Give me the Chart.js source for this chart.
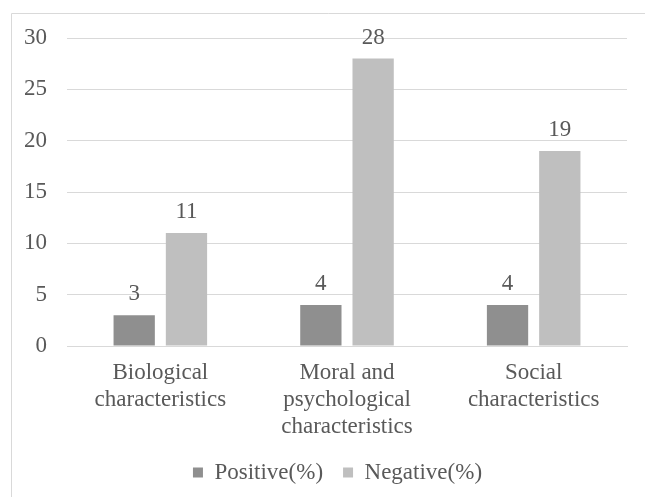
<!DOCTYPE html>
<html>
<head>
<meta charset="utf-8">
<script src="https://cdn.jsdelivr.net/npm/chart.js@4"></script>
<style>
  html, body { margin: 0; padding: 0; background: #fff; }
  #wrap { width: 645px; height: 497px; }
</style>
</head>
<body>
<div id="wrap"><canvas id="chart" width="645" height="497"></canvas></div>
<script>
const categories = [
  ["Biological", "characteristics"],
  ["Moral and", "psychological", "characteristics"],
  ["Social", "characteristics"]
];
const positiveValues = [3, 4, 4];
const negativeValues = [11, 28, 19];
const seriesNames = ["Positive(%)", "Negative(%)"];
const yTicks = [0, 5, 10, 15, 20, 25, 30];

const textColor = "#595959";
const fontFamily = "'Liberation Serif', 'Times New Roman', serif";

// frame of the chart box (only left and top edges are visible in the picture)
const framePlugin = {
  id: "frame",
  afterLayout(chart) {
    // center the legend under the plot area instead of the whole canvas
    if (chart.legend) chart.legend.left = 48;
  },
  beforeDraw(chart) {
    const ctx = chart.ctx;
    ctx.save();
    ctx.strokeStyle = "#d9d9d9";
    ctx.lineWidth = 1;
    ctx.beginPath();
    ctx.moveTo(11.5, 497);
    ctx.lineTo(11.5, 13.5);
    ctx.lineTo(645, 13.5);
    ctx.stroke();
    ctx.restore();
  }
};

// value labels above each bar
const valueLabels = {
  id: "valueLabels",
  afterDatasetsDraw(chart) {
    const ctx = chart.ctx;
    ctx.save();
    ctx.font = "23px " + fontFamily;
    ctx.fillStyle = textColor;
    ctx.textAlign = "center";
    ctx.textBaseline = "alphabetic";
    chart.data.datasets.forEach((ds, i) => {
      chart.getDatasetMeta(i).data.forEach((bar, j) => {
        ctx.fillText(ds.data[j], bar.x, bar.y - 15);
      });
    });
    ctx.restore();
  }
};

new Chart(document.getElementById("chart"), {
  type: "bar",
  data: {
    labels: categories,
    datasets: [
      {
        label: seriesNames[0],
        data: positiveValues,
        backgroundColor: "#8f8f8f",
        categoryPercentage: 0.56,
        barPercentage: 0.79
      },
      {
        label: seriesNames[1],
        data: negativeValues,
        backgroundColor: "#bfbfbf",
        categoryPercentage: 0.56,
        barPercentage: 0.79
      }
    ]
  },
  options: {
    responsive: false,
    animation: false,
    devicePixelRatio: 1,
    layout: { padding: { top: 38, right: 18, bottom: 3, left: 0 } },
    font: { family: fontFamily },
    scales: {
      x: {
        grid: { display: false },
        border: { color: "#d9d9d9" },
        ticks: {
          color: textColor,
          font: { family: fontFamily, size: 23, lineHeight: 1.18 },
          padding: 5,
          maxRotation: 0,
          autoSkip: false
        },
        afterFit(scale) { scale.height = 95; }
      },
      y: {
        min: 0,
        max: 30,
        afterBuildTicks(scale) {
          scale.ticks = yTicks.map(v => ({ value: v }));
        },
        grid: { color: "#d9d9d9", drawTicks: false },
        border: { display: false },
        ticks: {
          color: textColor,
          font: { family: fontFamily, size: 23 },
          padding: 20
        },
        afterFit(scale) { scale.width = 67; }
      }
    },
    plugins: {
      tooltip: { enabled: false },
      legend: {
        position: "bottom",
        labels: {
          color: textColor,
          font: { family: fontFamily, size: 23 },
          boxWidth: 10,
          boxHeight: 10,
          padding: 20
        }
      }
    }
  },
  plugins: [framePlugin, valueLabels]
});
</script>
</body>
</html>
